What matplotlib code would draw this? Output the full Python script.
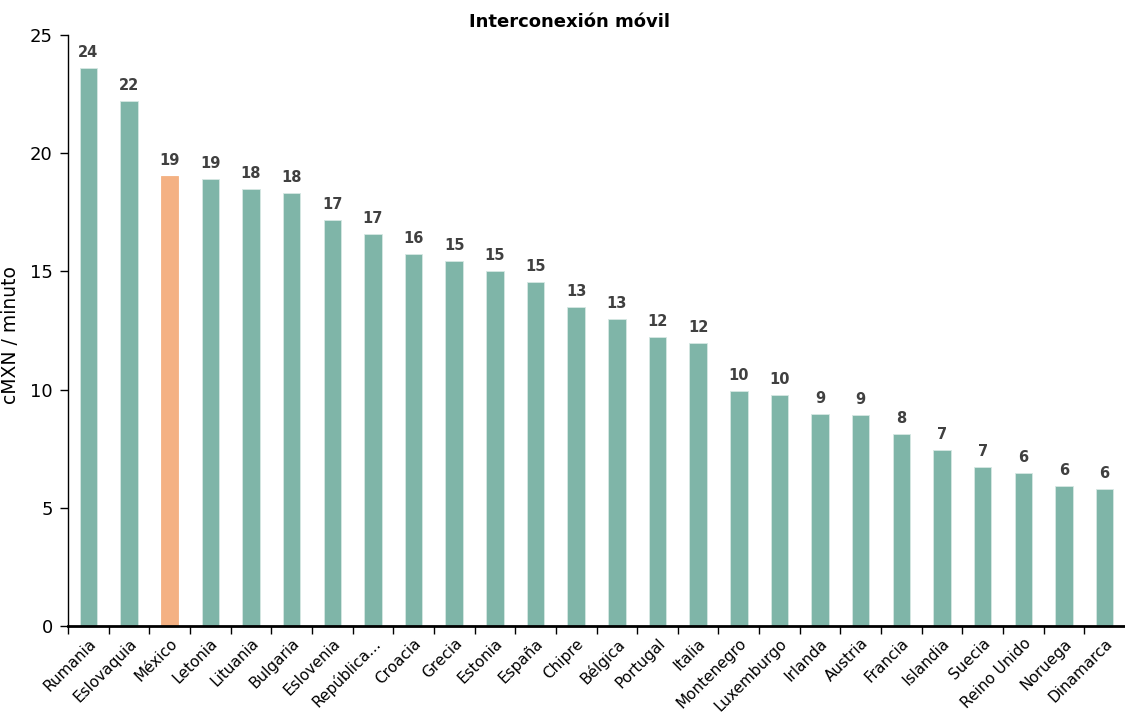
import matplotlib
matplotlib.use("Agg")
import matplotlib.pyplot as plt
import numpy as np

countries = ["Rumania", "Eslovaquia", "México", "Letonia", "Lituania", "Bulgaria",
             "Eslovenia", "República...", "Croacia", "Grecia", "Estonia", "España",
             "Chipre", "Bélgica", "Portugal", "Italia", "Montenegro", "Luxemburgo",
             "Irlanda", "Austria", "Francia", "Islandia", "Suecia", "Reino Unido",
             "Noruega", "Dinamarca"]
values = [23.6, 22.2, 19.04, 18.9, 18.49, 18.3, 17.17, 16.58, 15.74, 15.44, 15.02,
          14.55, 13.49, 12.99, 12.22, 11.97, 9.94, 9.77, 8.97, 8.93, 8.12, 7.44,
          6.73, 6.47, 5.92, 5.80]
highlight = "México"

plt.rcParams["font.family"] = ["DejaVu Sans"]

fig = plt.figure(figsize=(11.25, 7.13), dpi=100)
ax = fig.add_axes([68 / 1125, 1 - 626 / 713, 1 - 68 / 1125, (626 - 35) / 713])

x = np.arange(len(countries))
colors = ["#F4B183" if c == highlight else "#7FB5A8" for c in countries]
bars = ax.bar(x, values, width=0.43, color=colors, edgecolor="#D6E8E3", linewidth=0.6, zorder=2)
for b, c in zip(bars, countries):
    if c == highlight:
        b.set_edgecolor("#F4B183")

for xi, v in zip(x, values):
    ax.text(xi, v + 0.35, f"{round(v):d}", ha="center", va="bottom",
            fontsize=10.5, fontweight="bold", color="#404040")

ax.set_xlim(-0.5, len(countries) - 0.5)
ax.set_ylim(0, 25)
ax.set_yticks([0, 5, 10, 15, 20, 25])
ax.tick_params(axis="y", labelsize=13, length=6, width=1, direction="out", pad=5)

ax.set_xticks(x)
ax.set_xticklabels(countries, rotation=45, ha="right", rotation_mode="anchor", fontsize=11)
ax.tick_params(axis="x", which="major", length=0, pad=7)
ax.set_xticks(np.arange(len(countries)) - 0.5, minor=True)
ax.tick_params(axis="x", which="minor", length=6, width=1, direction="out")

for s in ["top", "right"]:
    ax.spines[s].set_visible(False)
ax.spines["bottom"].set_linewidth(2)
ax.spines["left"].set_linewidth(1)

ax.set_ylabel("cMXN / minuto", fontsize=13.5)
ax.yaxis.set_label_coords((20 - 68) / (1125 - 68), (626 - 335) / 591)

fig.text(0.506, 1 - 22 / 713, "Interconexión móvil", ha="center", va="center",
         fontsize=13, fontweight="bold")

fig.savefig("out.png", dpi=100)
